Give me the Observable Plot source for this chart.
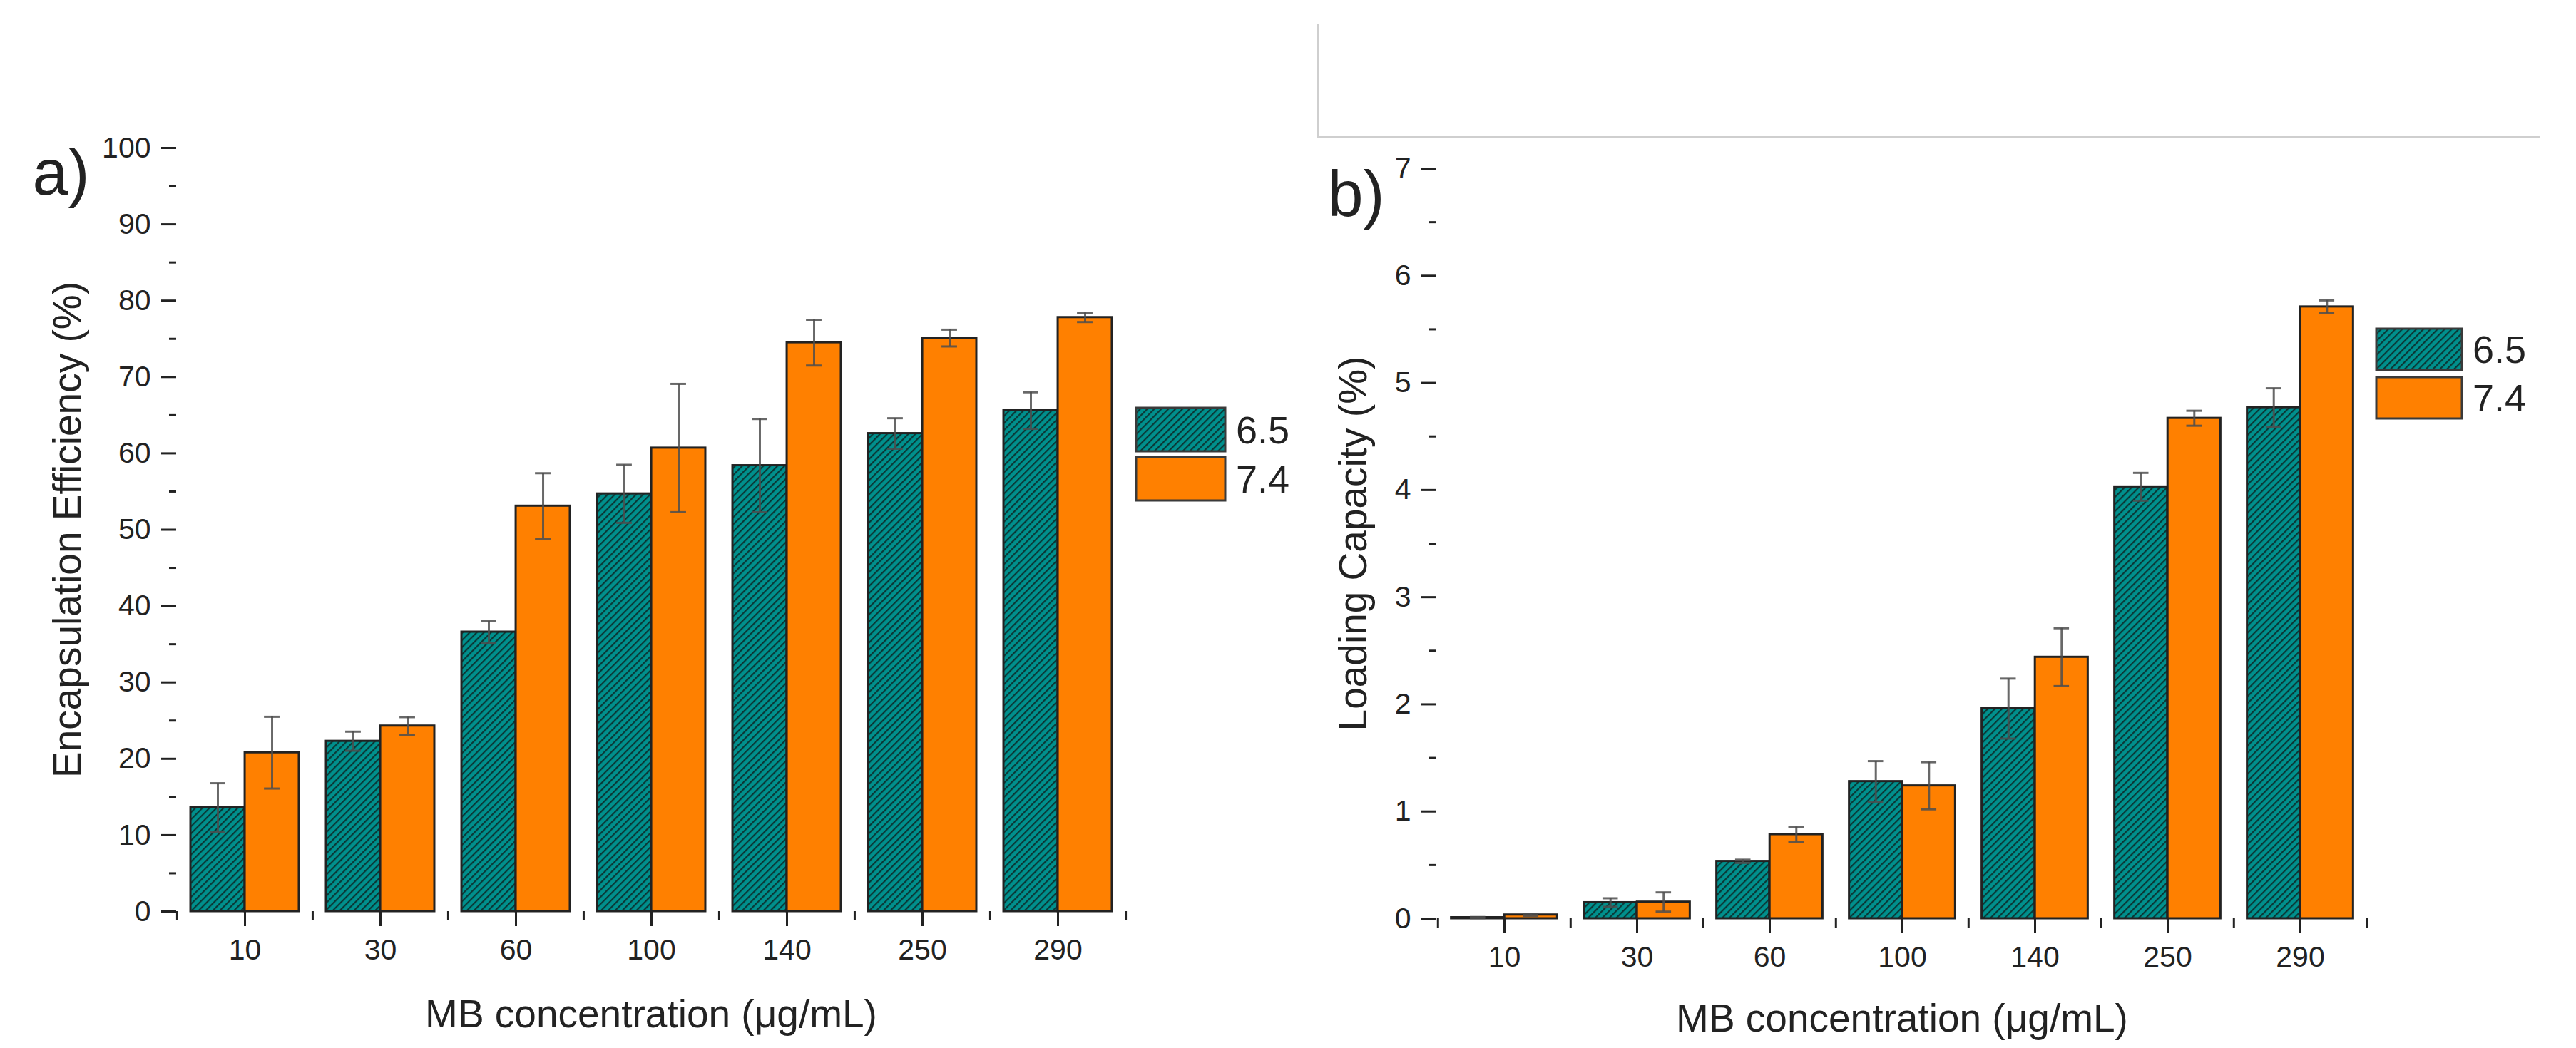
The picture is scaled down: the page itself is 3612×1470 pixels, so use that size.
<!DOCTYPE html>
<html>
<head>
<meta charset="utf-8">
<script src="https://cdn.jsdelivr.net/npm/d3@7"></script>
<script src="https://cdn.jsdelivr.net/npm/@observablehq/plot@0.6"></script>
<style>
  body { margin: 0; background: #fff; font-family: "Liberation Sans", Arial, sans-serif; color: #222; }
  #wrap { position: relative; width: 3612px; height: 1470px; overflow: hidden; background: #fff; }
  .abs { position: absolute; }
</style>
</head>
<body>
<div id="wrap"></div>
<script>
// MB concentration (ug/mL) categories
const concentrations = ['10', '30', '60', '100', '140', '250', '290']
const phLevels = ['6.5', '7.4']

// a) Encapsulation Efficiency (%)
const eeMean65 = [13.6, 22.3, 36.6, 54.7, 58.4, 62.6, 65.6]
const eeErr65  = [3.2, 1.25, 1.4, 3.8, 6.1, 2.0, 2.4]
const eeMean74 = [20.8, 24.3, 53.1, 60.7, 74.5, 75.1, 77.8]
const eeErr74  = [4.7, 1.15, 4.3, 8.4, 3.0, 1.1, 0.6]

// b) Loading Capacity (%)
const lcMean65 = [0.01, 0.15, 0.535, 1.28, 1.96, 4.03, 4.77]
const lcErr65  = [0.005, 0.04, 0.015, 0.19, 0.28, 0.13, 0.18]
const lcMean74 = [0.035, 0.155, 0.785, 1.24, 2.44, 4.67, 5.71]
const lcErr74  = [0.01, 0.09, 0.07, 0.22, 0.27, 0.07, 0.06]

const eeTicks = d3.range(0, 101, 10)
const lcTicks = d3.range(0, 8, 1)

const ink = '#222'
const teal = '#00908d'
const orange = '#ff8000'
const font = '"Liberation Sans", Arial, sans-serif'

const toRows = (m65, e65, m74, e74) => concentrations.flatMap((c, i) => [
  {conc: c, ph: '6.5', value: m65[i], err: e65[i]},
  {conc: c, ph: '7.4', value: m74[i], err: e74[i]},
])

const wrap = d3.select('#wrap')

// hatch used by the pH 6.5 bars
const defs = wrap.append('svg').attr('width', 0).attr('height', 0).attr('class', 'abs').append('defs')
const pat = defs.append('pattern')
    .attr('id', 'hatch')
    .attr('patternUnits', 'userSpaceOnUse')
    .attr('width', 7).attr('height', 7)
    .attr('patternTransform', 'rotate(45)')
pat.append('rect').attr('width', 7).attr('height', 7).attr('fill', teal)
pat.append('line').attr('x1', 1).attr('y1', 0).attr('x2', 1).attr('y2', 7)
    .attr('stroke', '#0a3836').attr('stroke-width', 2.4)

function panel(o) {
  const rows = toRows(...o.series)
  const r65 = rows.filter(d => d.ph === '6.5')
  const r74 = rows.filter(d => d.ph === '7.4')
  const step = (o.width - o.marginLeft - o.marginRight) / concentrations.length
  const outer = step * 0.1, inner = step * 0.5, off = step * 0.2, cap = step * 0.5 - 11
  const errStyle = {stroke: '#4d4d4d', strokeOpacity: 0.85, strokeWidth: 3}
  const lo = d => d.value - d.err, hi = d => d.value + d.err

  const chart = Plot.plot({
    width: o.width,
    height: o.height,
    marginLeft: o.marginLeft,
    marginRight: o.marginRight,
    marginTop: o.marginTop,
    marginBottom: o.marginBottom,
    style: {fontFamily: font, color: ink, background: 'transparent', overflow: 'visible'},
    x: {domain: concentrations, padding: 0, label: null},
    y: {domain: o.yDomain, label: null},
    marks: [
      Plot.barY(r65, {x: 'conc', y: 'value', fill: 'url(#hatch)', stroke: ink, strokeWidth: 3, insetLeft: outer, insetRight: inner}),
      Plot.barY(r74, {x: 'conc', y: 'value', fill: orange, stroke: ink, strokeWidth: 3, insetLeft: inner, insetRight: outer}),
      Plot.ruleX(r65, {x: 'conc', y1: lo, y2: hi, dx: -off, ...errStyle}),
      Plot.ruleX(r74, {x: 'conc', y1: lo, y2: hi, dx: off, ...errStyle}),
      Plot.tickY(r65, {x: 'conc', y: hi, dx: -off, insetLeft: cap, insetRight: cap, ...errStyle}),
      Plot.tickY(r65, {x: 'conc', y: lo, dx: -off, insetLeft: cap, insetRight: cap, ...errStyle}),
      Plot.tickY(r74, {x: 'conc', y: hi, dx: off, insetLeft: cap, insetRight: cap, ...errStyle}),
      Plot.tickY(r74, {x: 'conc', y: lo, dx: off, insetLeft: cap, insetRight: cap, ...errStyle}),
      // Origin-like axes: major + minor ticks pointing outward
      Plot.axisY({ticks: o.major, tickFormat: d => String(d), tickSize: 21, tickPadding: 15, fontSize: 41, color: ink, strokeWidth: 3, line: true, label: null}),
      Plot.axisY({ticks: o.minor, tickSize: 10, tickFormat: () => '', color: ink, strokeWidth: 3, label: null}),
      Plot.axisX({tickSize: 21, tickPadding: 17, fontSize: 41, color: ink, strokeWidth: 3, line: true, label: null}),
      Plot.axisX({tickSize: 13, tickFormat: () => '', dx: -step / 2, color: ink, strokeWidth: 3, label: null}),
      Plot.axisX({ticks: concentrations.slice(-1), tickSize: 13, tickFormat: () => '', dx: step / 2, color: ink, strokeWidth: 3, label: null}),
      Plot.text([o.yTitle], {frameAnchor: 'left', textAnchor: 'middle', lineAnchor: 'middle', rotate: -90, dx: o.yTitleDx, fontSize: 55, fill: ink}),
      Plot.text(['MB concentration (\u03bcg/mL)'], {frameAnchor: 'bottom', textAnchor: 'middle', lineAnchor: 'bottom', dy: o.xTitleDy, fontSize: 55, fill: ink}),
      Plot.text([o.tag], {frameAnchor: 'top-left', textAnchor: 'start', lineAnchor: 'bottom', dx: o.tagDx, dy: o.tagDy, fontSize: 90, fill: ink}),
    ]
  })
  wrap.append('div').attr('class', 'abs').style('left', o.left + 'px').style('top', '0px').append(() => chart)
}

function legend(x, y, w, h, gap, size) {
  const svg = wrap.append('svg').attr('class', 'abs')
      .style('left', x + 'px').style('top', y + 'px')
      .attr('width', w + 110).attr('height', 2 * h + gap + 4)
  phLevels.forEach((p, i) => {
    const top = 2 + i * (h + gap)
    svg.append('rect').attr('x', 2).attr('y', top).attr('width', w).attr('height', h)
        .attr('fill', i === 0 ? 'url(#hatch)' : orange).attr('stroke', '#3a3a3a').attr('stroke-width', 3)
    svg.append('text').attr('x', w + 17).attr('y', top + h / 2).attr('dy', '0.36em')
        .attr('font-family', font).attr('font-size', size).attr('fill', ink).text(p)
  })
}

// top grey frame fragment
wrap.append('div').attr('class', 'abs')
    .style('left', '1847px').style('top', '33px').style('width', '1712px').style('height', '158px')
    .style('border-left', '3px solid #cfcfcf').style('border-bottom', '3px solid #cfcfcf')

panel({
  series: [eeMean65, eeErr65, eeMean74, eeErr74],
  left: 0, width: 1600, height: 1470,
  marginLeft: 247, marginRight: 22, marginTop: 207, marginBottom: 192,
  yDomain: [0, 100], major: eeTicks, minor: d3.range(5, 100, 10),
  yTitle: 'Encapsulation Efficiency (%)', yTitleDx: -152, xTitleDy: 162,
  tag: 'a)', tagDx: -202, tagDy: 65,
})

panel({
  series: [lcMean65, lcErr65, lcMean74, lcErr74],
  left: 1820, width: 1792, height: 1470,
  marginLeft: 194, marginRight: 293, marginTop: 236, marginBottom: 182,
  yDomain: [0, 7], major: lcTicks, minor: d3.range(0.5, 7, 1),
  yTitle: 'Loading Capacity (%)', yTitleDx: -116, xTitleDy: 158,
  tag: 'b)', tagDx: -153, tagDy: 66,
})

legend(1591, 570, 125, 61, 8, 54)
legend(3330, 459, 120, 58, 10, 54)
</script>
</body>
</html>
